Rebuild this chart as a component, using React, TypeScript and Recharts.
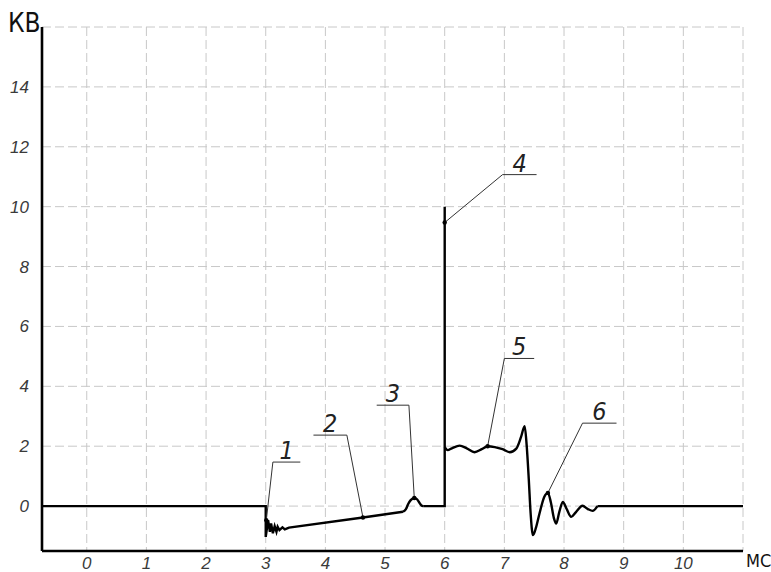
import React from 'react';
import { LineChart, Line, XAxis, YAxis, CartesianGrid, ReferenceLine, ReferenceDot } from 'recharts';

// Axis ticks (ms, kV)
const xTicks = [0, 1, 2, 3, 4, 5, 6, 7, 8, 9, 10, 11];
const xTickLabels = ['0', '1', '2', '3', '4', '5', '6', '7', '8', '9', '10', ''];
const yTicks = [0, 2, 4, 6, 8, 10, 12, 14, 16];
const yTickLabels = ['0', '2', '4', '6', '8', '10', '12', '14', ''];

// Waveform pieces (x in ms, y in kV)
const baseAndDip = [
  { x: -0.75, y: 0 }, { x: 3.0, y: 0 }, { x: 3.0, y: -1.03 }, { x: 3.04, y: -0.47 },
  { x: 3.07, y: -0.86 }, { x: 3.09, y: -0.58 }, { x: 3.12, y: -0.91 }, { x: 3.15, y: -0.67 },
  { x: 3.18, y: -0.86 }, { x: 3.2, y: -0.69 }, { x: 3.23, y: -0.8 }, { x: 3.28, y: -0.71 },
  { x: 3.32, y: -0.78 }, { x: 3.39, y: -0.72 }, { x: 4.63, y: -0.38 }, { x: 5.3, y: -0.19 },
];
const bump = [
  { x: 5.3, y: -0.19 }, { x: 5.35, y: -0.1 }, { x: 5.39, y: 0.08 }, { x: 5.43, y: 0.2 },
  { x: 5.49, y: 0.27 }, { x: 5.54, y: 0.22 }, { x: 5.58, y: 0.1 }, { x: 5.61, y: 0.02 }, { x: 5.64, y: 0 },
];
const spike = [
  { x: 5.64, y: 0 }, { x: 6.0, y: 0 }, { x: 6.0, y: 10 }, { x: 6.0, y: 1.97 },
];
const ringing = [
  { x: 6.0, y: 1.97 }, { x: 6.05, y: 1.87 }, { x: 6.12, y: 1.93 }, { x: 6.25, y: 2.02 },
  { x: 6.37, y: 1.93 }, { x: 6.5, y: 1.8 }, { x: 6.62, y: 1.9 }, { x: 6.72, y: 2.0 },
  { x: 6.84, y: 1.97 }, { x: 6.97, y: 1.9 }, { x: 7.09, y: 1.8 }, { x: 7.2, y: 1.92 },
  { x: 7.28, y: 2.31 }, { x: 7.34, y: 2.67 }, { x: 7.375, y: 2.0 }, { x: 7.41, y: 0.87 },
  { x: 7.44, y: -0.24 }, { x: 7.48, y: -0.97 }, { x: 7.53, y: -0.72 }, { x: 7.59, y: -0.24 },
  { x: 7.67, y: 0.31 }, { x: 7.73, y: 0.44 }, { x: 7.78, y: 0.12 }, { x: 7.83, y: -0.4 },
  { x: 7.87, y: -0.58 }, { x: 7.92, y: -0.2 }, { x: 7.98, y: 0.14 }, { x: 8.04, y: -0.08 },
  { x: 8.12, y: -0.36 }, { x: 8.2, y: -0.2 }, { x: 8.31, y: 0.01 }, { x: 8.4, y: -0.1 },
  { x: 8.48, y: -0.16 }, { x: 8.56, y: 0 },
];
const tail = [{ x: 8.56, y: 0 }, { x: 11, y: 0 }];

// Callouts
const calloutNames = ['1', '2', '3', '4', '5', '6'];
const shelfStartX = [3.12, 3.8, 4.86, 6.97, 7.0, 8.31];
const shelfEndX = [3.58, 4.36, 5.4, 7.54, 7.5, 8.88];
const shelfY = [1.47, 2.37, 3.37, 11.07, 4.93, 2.77];
const leaderFromStart = [true, false, false, true, true, true];
const targetX = [3.01, 4.63, 5.49, 6.0, 6.72, 7.73];
const targetY = [-0.47, -0.38, 0.27, 9.47, 2.0, 0.44];

const narrowFont = "'Liberation Sans Narrow', 'DejaVu Sans Condensed', 'Liberation Sans', sans-serif";
const tickFont = "'Liberation Sans', 'DejaVu Sans', sans-serif";

const XTick = (props: any) => {
  const { x, payload } = props;
  const i = xTicks.indexOf(payload.value);
  const label = i >= 0 ? xTickLabels[i] : '';
  if (!label) return null;
  return (
    <text x={x} y={569} textAnchor="middle" fontFamily={tickFont} fontStyle="italic" fontSize={17} fill="#3a3a3a">
      {label}
    </text>
  );
};

const YTick = (props: any) => {
  const { y, payload } = props;
  const i = yTicks.indexOf(payload.value);
  const label = i >= 0 ? yTickLabels[i] : '';
  if (!label) return null;
  return (
    <text x={29} y={y + 6} textAnchor="end" fontFamily={tickFont} fontStyle="italic" fontSize={17} fill="#3a3a3a">
      {label}
    </text>
  );
};

const YUnit = () => (
  <text x={8} y={32} fontFamily={narrowFont} fontSize={26} fill="#111">
    КВ
  </text>
);

const XUnit = () => (
  <text x={746} y={567} fontFamily={narrowFont} fontSize={18} fill="#111">
    МС
  </text>
);

const CalloutText = (name: string) => (props: any) => (
  <text x={props.cx} y={props.cy - 3} textAnchor="middle" fontFamily={narrowFont} fontStyle="italic" fontSize={25} fill="#222">
    {name}
  </text>
);

export default function App() {
  const lineProps = {
    dataKey: 'y',
    stroke: '#000',
    strokeWidth: 2.4,
    dot: false,
    activeDot: false,
    isAnimationActive: false,
  } as any;
  return (
    <div style={{ position: 'absolute', left: 0, top: 0, background: '#fff' }}>
      <LineChart width={771} height={572} margin={{ top: 27, right: 28, left: 0, bottom: 0 }}>
        <CartesianGrid stroke="#c8c8c8" strokeDasharray="9 4" strokeWidth={1} />
        <XAxis
          type="number"
          dataKey="x"
          domain={[-0.75, 11]}
          ticks={xTicks}
          height={21}
          tickLine={false}
          tickSize={0}
          tickMargin={0}
          tick={<XTick />}
          axisLine={{ stroke: '#000', strokeWidth: 2.6 }}
          allowDataOverflow
          interval={0}
          label={<XUnit />}
        />
        <YAxis
          type="number"
          dataKey="y"
          domain={[-1.5, 16]}
          ticks={yTicks}
          width={42}
          tickLine={false}
          tickSize={0}
          tickMargin={0}
          tick={<YTick />}
          axisLine={{ stroke: '#000', strokeWidth: 2.6 }}
          allowDataOverflow
          interval={0}
          label={<YUnit />}
        />
        <Line data={baseAndDip} type="linear" {...lineProps} />
        <Line data={bump} type="monotone" {...lineProps} />
        <Line data={spike} type="linear" {...lineProps} />
        <Line data={ringing} type="monotone" {...lineProps} />
        <Line data={tail} type="linear" {...lineProps} />
        {calloutNames.map((name, i) => (
          <ReferenceLine
            key={'s' + i}
            segment={[{ x: shelfStartX[i], y: shelfY[i] }, { x: shelfEndX[i], y: shelfY[i] }]}
            stroke="#333"
            strokeWidth={1}
          />
        ))}
        {calloutNames.map((name, i) => (
          <ReferenceLine
            key={'l' + i}
            segment={[
              { x: leaderFromStart[i] ? shelfStartX[i] : shelfEndX[i], y: shelfY[i] },
              { x: targetX[i], y: targetY[i] },
            ]}
            stroke="#333"
            strokeWidth={1}
          />
        ))}
        {calloutNames.map((name, i) => (
          <ReferenceDot key={'d' + i} x={targetX[i]} y={targetY[i]} r={2.2} fill="#000" stroke="none" />
        ))}
        {calloutNames.map((name, i) => (
          <ReferenceDot
            key={'t' + i}
            x={(shelfStartX[i] + shelfEndX[i]) / 2}
            y={shelfY[i]}
            r={0}
            shape={CalloutText(name)}
          />
        ))}
      </LineChart>
    </div>
  );
}
